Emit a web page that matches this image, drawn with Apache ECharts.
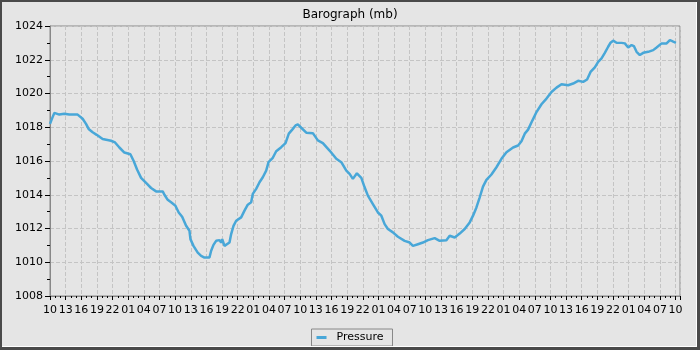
<!DOCTYPE html>
<html>
<head>
<meta charset="utf-8">
<script src="https://cdn.jsdelivr.net/npm/echarts@6/dist/echarts.min.js"></script>
<style>
  html, body { margin: 0; padding: 0; background: #e5e5e5; }
  #wrap { position: relative; width: 700px; height: 350px; }
  #chart { width: 700px; height: 350px; }
  #frame { position: absolute; left: 0; top: 0; width: 700px; height: 350px; box-sizing: border-box;
           border-top: 2px solid #4a4a4a; border-left: 2px solid #4a4a4a;
           border-right: 3px solid #4a4a4a; border-bottom: 3px solid #4a4a4a; pointer-events: none; }
  #inner { position: absolute; left: 0; top: 0; right: 0; bottom: 0; border-right: 1px solid #fff; border-bottom: 1px solid #fff; }
</style>
</head>
<body>
<div id="wrap"><div id="chart"></div><div id="frame"><div id="inner"></div></div></div>
<script>
// Hours elapsed since the start (10:00 on day 1)
const hours = [0, 0.5, 0.83, 1.79, 2.75, 3.7, 4.67, 5.3, 6.26, 6.91, 7.41, 8.18, 8.95, 10.1, 11.71, 12.48,
  13.31, 14.27, 15.42, 16.05, 16.7, 17.47, 18.43, 19.39, 20.35, 21.62, 21.95, 22.58, 23.23, 24.06, 24.69,
  25.35, 26.11, 26.75, 26.94, 27.52, 28.34, 28.99, 29.63, 30.59, 30.91, 31.36, 31.87, 32.51, 32.83, 33.03,
  33.47, 33.79, 34.43, 34.75, 35.2, 35.71, 36.67, 37.31, 37.94, 38.59, 38.9, 39.55, 40.19, 40.82, 41.47,
  41.92, 42.74, 43.39, 44.36, 45.18, 45.81, 46.47, 47.1, 47.54, 48.19, 49.16, 50.42, 51.38, 52.34, 53.63,
  54.92, 55.88, 56.84, 57.47, 58.1, 58.87, 59.72, 60.35, 60.98, 61.94, 62.9, 63.56, 64.19, 64.82, 65.78,
  66.74, 68.03, 68.99, 69.62, 70.58, 71.54, 72.5, 73.79, 74.75, 76.04, 76.67, 77.63, 78.59, 79.55, 80.51,
  81.15, 81.8, 82.43, 83.06, 83.72, 84.68, 85.64, 86.6, 87.56, 88.83, 89.79, 90.44, 91.07, 91.71, 92.55,
  93.32, 94.28, 95.24, 96.2, 97.16, 98.12, 99.39, 100.35, 101.3, 102.27, 103.03, 103.69, 104.51, 105.15,
  105.8, 106.43, 107.07, 107.53, 108.03, 108.68, 109.64, 110.27, 110.91, 111.56, 112.0, 112.52, 113.15,
  113.79, 114.75, 115.71, 116.36, 117.32, 118.28, 118.91, 119.55, 120.07];
const pressure = [1018.2, 1018.6, 1018.85, 1018.75, 1018.8, 1018.75, 1018.75, 1018.75, 1018.5, 1018.2, 1017.9,
  1017.7, 1017.55, 1017.3, 1017.2, 1017.1, 1016.8, 1016.5, 1016.4, 1016.0, 1015.5, 1015.0, 1014.7, 1014.4,
  1014.2, 1014.2, 1014.0, 1013.7, 1013.55, 1013.35, 1012.95, 1012.7, 1012.16, 1011.87, 1011.37, 1010.97,
  1010.57, 1010.38, 1010.28, 1010.28, 1010.68, 1011.03, 1011.27, 1011.31, 1011.17, 1011.37, 1010.97,
  1010.87, 1011.17, 1011.67, 1012.16, 1012.46, 1012.66, 1013.06, 1013.41, 1013.55, 1014.05, 1014.35,
  1014.74, 1015.04, 1015.43, 1015.93, 1016.19, 1016.58, 1016.82, 1017.06, 1017.62, 1017.86, 1018.11,
  1018.17, 1017.97, 1017.68, 1017.65, 1017.22, 1017.06, 1016.62, 1016.13, 1015.93, 1015.43, 1015.24,
  1014.94, 1015.27, 1015.0, 1014.44, 1013.95, 1013.45, 1012.95, 1012.76, 1012.26, 1011.97, 1011.77,
  1011.51, 1011.27, 1011.17, 1010.97, 1011.07, 1011.17, 1011.31, 1011.43, 1011.27, 1011.31, 1011.57,
  1011.47, 1011.7, 1011.97, 1012.36, 1012.76, 1013.25, 1013.85, 1014.48, 1014.88, 1015.2, 1015.63,
  1016.13, 1016.52, 1016.8, 1016.92, 1017.17, 1017.62, 1017.86, 1018.41, 1018.9, 1019.36, 1019.7,
  1020.09, 1020.35, 1020.55, 1020.49, 1020.59, 1020.75, 1020.69, 1020.83, 1021.28, 1021.55, 1021.88,
  1022.08, 1022.41, 1022.77, 1023.01, 1023.13, 1023.01, 1023.0, 1022.97, 1022.73, 1022.87, 1022.81,
  1022.47, 1022.28, 1022.41, 1022.47, 1022.57, 1022.73, 1022.97, 1022.97, 1023.17, 1023.07, 1023.0];
const startHour = 10;
const xMaxHours = 120.85;
const yTicks = [1008, 1010, 1012, 1014, 1016, 1018, 1020, 1022, 1024];
const titleText = 'Barograph (mb)';
const seriesName = 'Pressure';

const font = 'DejaVu Sans';
const data = hours.map((h, i) => [h, pressure[i]]);
const chart = echarts.init(document.getElementById('chart'), null, { renderer: 'canvas' });
chart.setOption({
  backgroundColor: '#e5e5e5',
  animation: false,
  title: {
    text: titleText, left: 'center', top: 4,
    textStyle: { fontFamily: font, fontSize: 12, fontWeight: 'normal', color: '#000' }
  },
  legend: {
    data: [seriesName], left: 'center', top: 329,
    borderColor: '#888', borderWidth: 1, padding: [3, 9, 3, 5],
    icon: 'rect', itemWidth: 10, itemHeight: 3, itemGap: 10,
    textStyle: { fontFamily: font, fontSize: 11, color: '#000', padding: [0, 0, 0, 5] }
  },
  grid: { left: 50, right: 20, top: 26, bottom: 54, show: true, borderColor: '#888', borderWidth: 1, backgroundColor: 'transparent' },
  xAxis: {
    type: 'value', min: 0, max: xMaxHours, interval: 3,
    axisLine: { show: true, lineStyle: { color: '#888' } },
    axisTick: { show: true, length: 4, lineStyle: { color: '#000' } },
    minorTick: { show: true, splitNumber: 3, length: 2, lineStyle: { color: '#000' } },
    splitLine: { show: true, lineStyle: { color: '#c4c4c4', type: [4, 2] } },
    axisLabel: {
      fontFamily: font, fontSize: 11, color: '#000', margin: 9, showMaxLabel: false, hideOverlap: false,
      formatter: v => (Math.abs(v - Math.round(v)) < 1e-6 && Math.round(v) % 3 === 0)
        ? String((startHour + Math.round(v)) % 24).padStart(2, '0') : ''
    }
  },
  yAxis: {
    type: 'value', min: yTicks[0], max: yTicks[yTicks.length - 1], interval: 2,
    axisLine: { show: true, lineStyle: { color: '#888' } },
    axisTick: { show: true, length: 5, lineStyle: { color: '#000' } },
    minorTick: { show: true, splitNumber: 2, length: 3, lineStyle: { color: '#000' } },
    splitLine: { show: true, lineStyle: { color: '#c4c4c4', type: [4, 2] } },
    axisLabel: { fontFamily: font, fontSize: 11, color: '#000', margin: 7, formatter: v => String(v) }
  },
  series: [{
    name: seriesName, type: 'line', data: data, showSymbol: false,
    lineStyle: { color: '#48a7d8', width: 2.5 }, itemStyle: { color: '#48a7d8' }
  }]
});
</script>
</body>
</html>
